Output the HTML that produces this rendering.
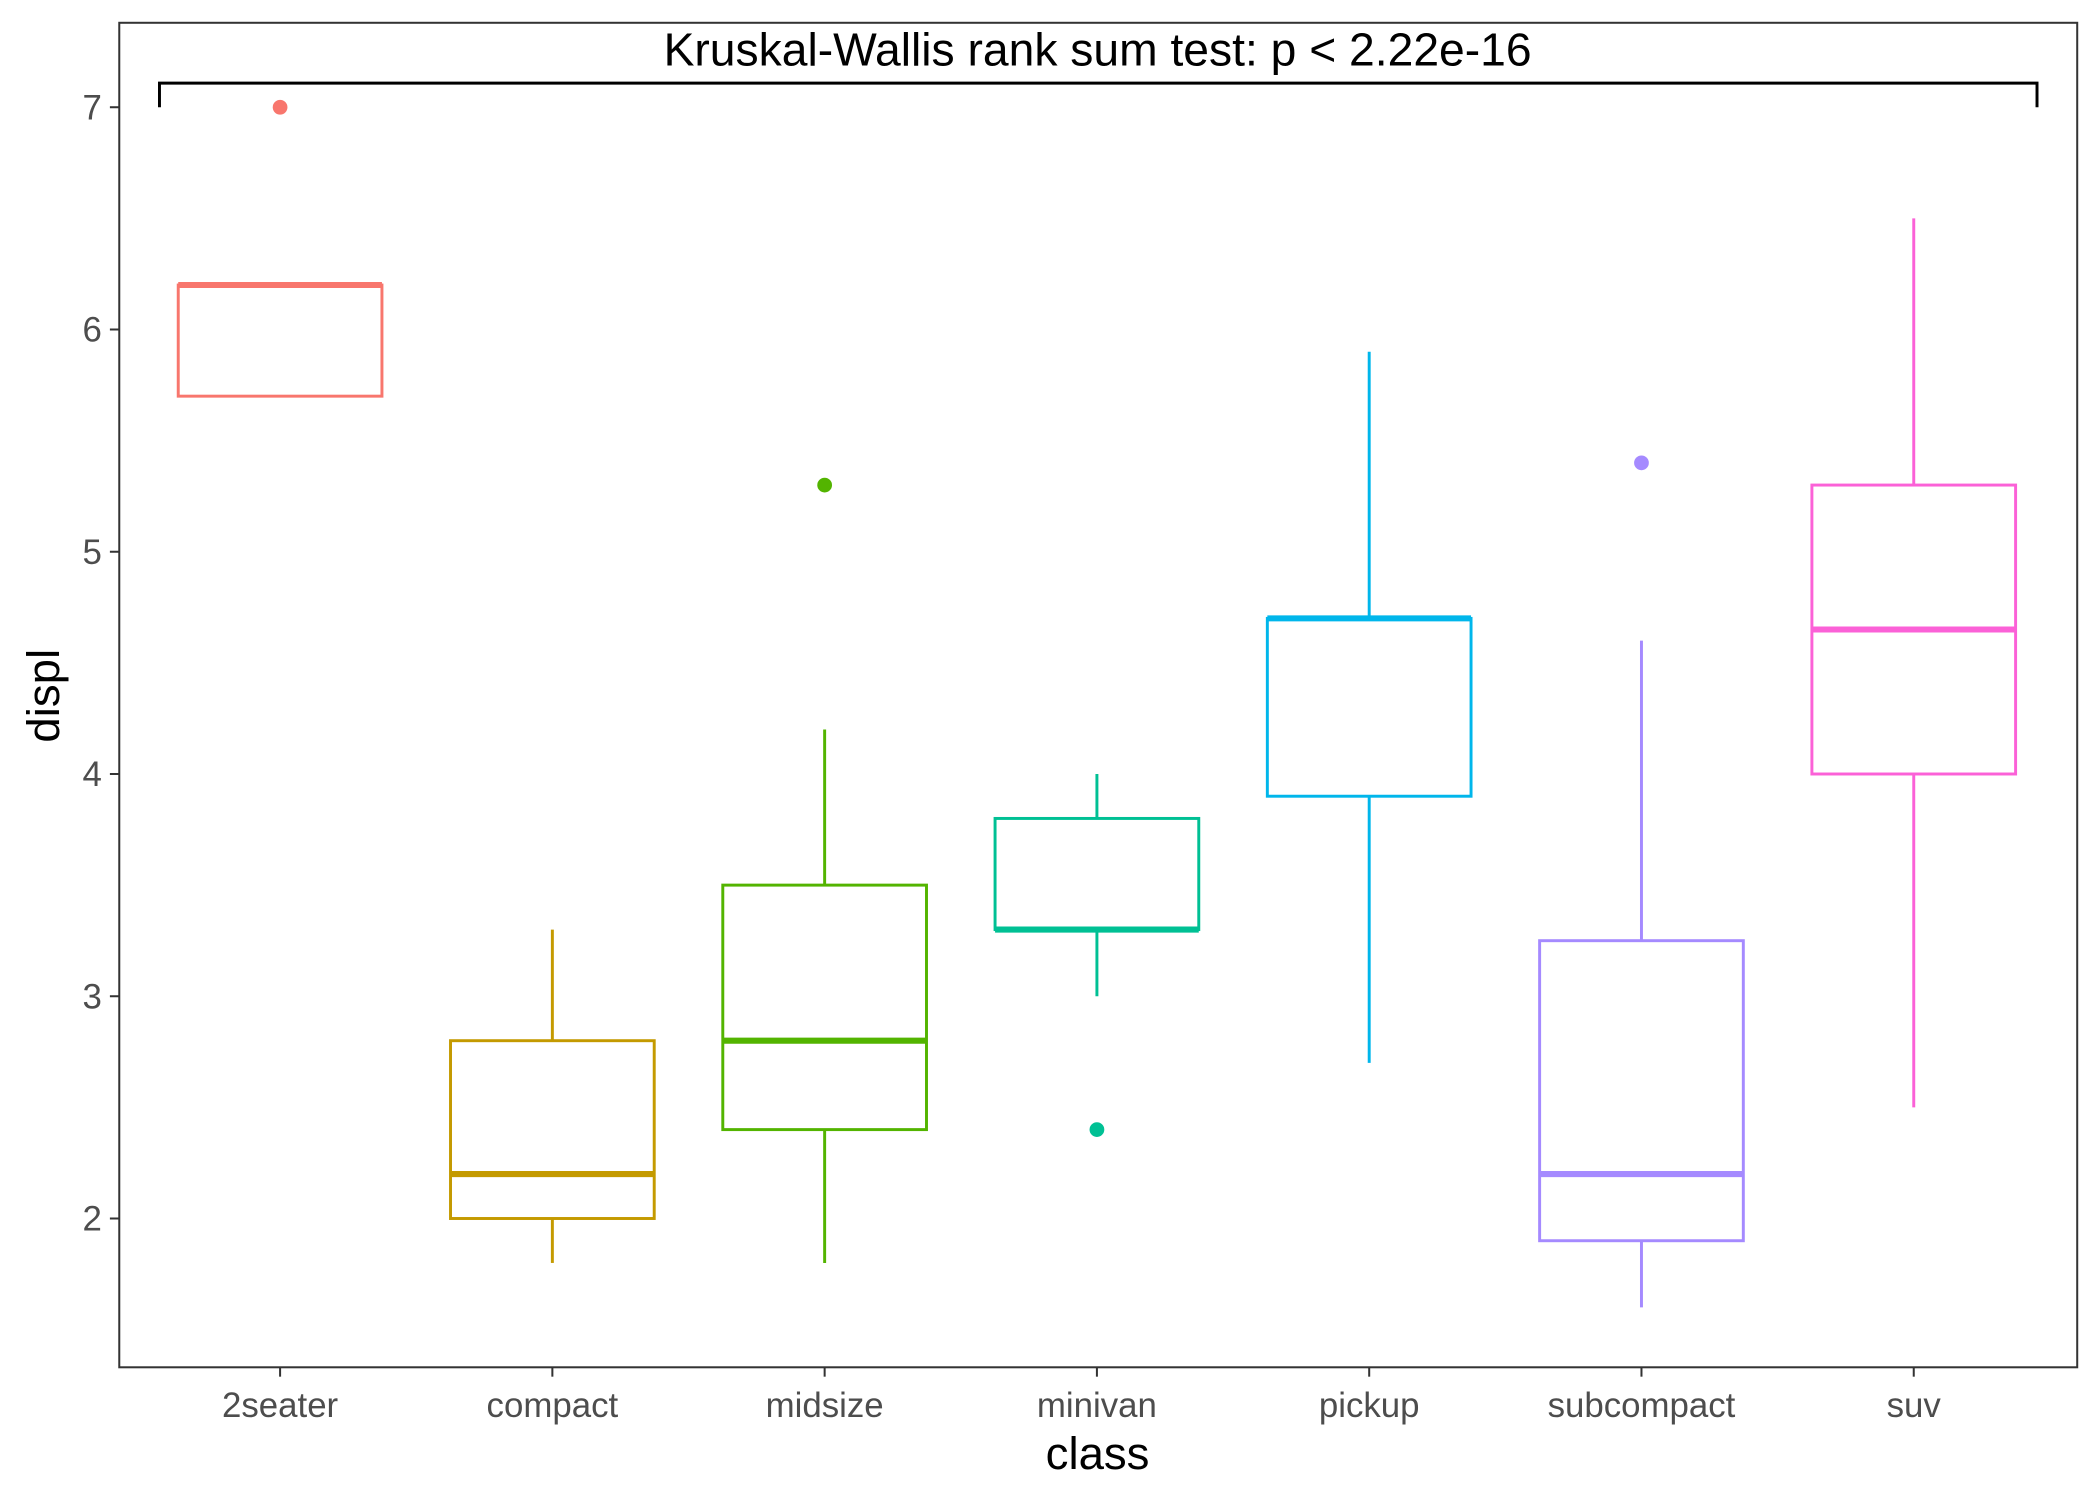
<!DOCTYPE html>
<html><head><meta charset="utf-8"><style>
html,body{margin:0;padding:0;background:#fff;}
svg{display:block;}
text{font-family:"Liberation Sans",sans-serif;}
</style></head><body>
<svg id="chart" width="2100" height="1500" viewBox="0 0 1567 1119" preserveAspectRatio="none" xmlns="http://www.w3.org/2000/svg">
<rect x="0" y="0" width="1567" height="1119" fill="#fff"/>
<g id="plot"></g>
</svg>
<script>
const categories = ["2seater","compact","midsize","minivan","pickup","subcompact","suv"];
const lowWhisker = [5.7, 1.8, 1.8, 3.0, 2.7, 1.6, 2.5];
const q1 = [5.7, 2.0, 2.4, 3.3, 3.9, 1.9, 4.0];
const median = [6.2, 2.2, 2.8, 3.3, 4.7, 2.2, 4.65];
const q3 = [6.2, 2.8, 3.5, 3.8, 4.7, 3.25, 5.3];
const highWhisker = [6.2, 3.3, 4.2, 4.0, 5.9, 4.6, 6.5];
const outlierCat = [0, 2, 3, 5];
const outlierVal = [7.0, 5.3, 2.4, 5.4];
const yTicks = [2, 3, 4, 5, 6, 7];
const colors = ["#F8766D","#C49A00","#53B400","#00C094","#00B6EB","#A58AFF","#FB61D7"];

const NS = "http://www.w3.org/2000/svg";
const g = document.getElementById("plot");
const L = 89, R = 1550, T = 17, B = 1020;
const yScale = v => 909 - (v - 2) * (909 - 80) / 5;
const xScale = i => 209 + i * 203.17;
const halfW = 76;

function mk(tag, attrs, parent) {
  const e = document.createElementNS(NS, tag);
  for (const k in attrs) e.setAttribute(k, attrs[k]);
  (parent || g).appendChild(e);
  return e;
}

const panel = mk("rect", {x: L, y: T, width: R - L, height: B - T, fill: "none", stroke: "#333", "stroke-width": 1.5});



yTicks.forEach(v => {
  const y = yScale(v);
  const t = mk("line", {x1: L - 7, x2: L, y1: y, y2: y, stroke: "#333", "stroke-width": 1.5});
  
  
  const lab = mk("text", {x: L - 13, y: y + 9, "text-anchor": "end", "font-size": 26, fill: "#4d4d4d"});
  lab.textContent = v;
  
  
});

categories.forEach((c, i) => {
  const x = xScale(i);
  const t = mk("line", {x1: x, x2: x, y1: B, y2: B + 7, stroke: "#333", "stroke-width": 1.5});
  
  
  const lab = mk("text", {x: x, y: 1057, "text-anchor": "middle", "font-size": 26, fill: "#4d4d4d"});
  lab.textContent = c;
  
  
});

categories.forEach((c, i) => {
  const x = xScale(i), col = colors[i];
  const grp = mk("g", {});
  
  
  mk("line", {x1: x, x2: x, y1: yScale(q3[i]), y2: yScale(highWhisker[i]), stroke: col, "stroke-width": 2.2}, grp);
  mk("line", {x1: x, x2: x, y1: yScale(q1[i]), y2: yScale(lowWhisker[i]), stroke: col, "stroke-width": 2.2}, grp);
  mk("rect", {x: x - halfW, y: yScale(q3[i]), width: 2 * halfW, height: Math.max(0.5, yScale(q1[i]) - yScale(q3[i])), fill: "#fff", stroke: col, "stroke-width": 2.2}, grp);
  mk("line", {x1: x - halfW, x2: x + halfW, y1: yScale(median[i]), y2: yScale(median[i]), stroke: col, "stroke-width": 4.5}, grp);
});

outlierCat.forEach((ci, k) => {
  const p = mk("circle", {cx: xScale(ci), cy: yScale(outlierVal[k]), r: 5.5, fill: colors[ci]});
  
  
});

const br = mk("path", {d: "M119,80 V62 H1520 V80", fill: "none", stroke: "#000", "stroke-width": 2.2});


const tl = mk("text", {x: 819, y: 49, "text-anchor": "middle", "font-size": 34.5, fill: "#000"});
tl.textContent = "Kruskal-Wallis rank sum test: p < 2.22e-16";



const xt = mk("text", {x: 819, y: 1096, "text-anchor": "middle", "font-size": 34, fill: "#000"});
xt.textContent = "class";


const yt = mk("text", {x: 0, y: 0, "text-anchor": "middle", "font-size": 34, fill: "#000", transform: "translate(44,519) rotate(-90)"});
yt.textContent = "displ";


</script>
</body></html>
